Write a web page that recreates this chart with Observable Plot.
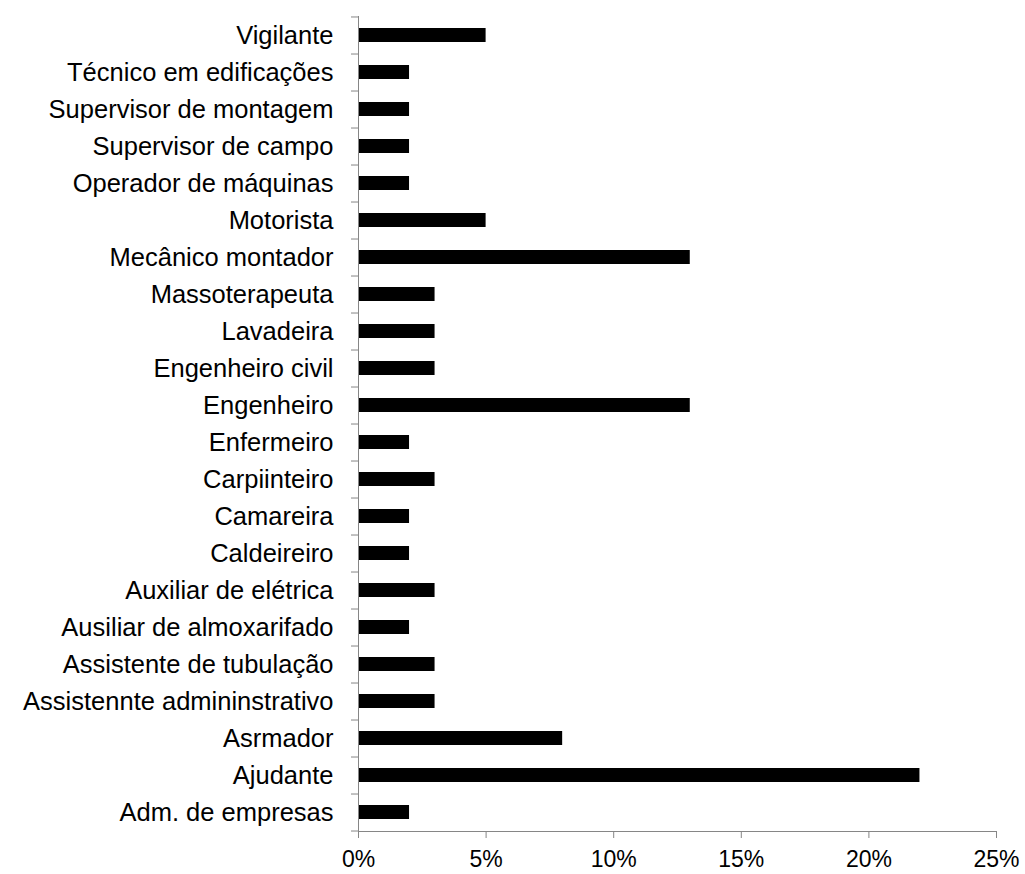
<!DOCTYPE html>
<html>
<head>
<meta charset="utf-8">
<script src="https://cdn.jsdelivr.net/npm/d3@7"></script>
<script src="https://cdn.jsdelivr.net/npm/@observablehq/plot@0.6"></script>
<style>
  html, body { margin: 0; padding: 0; background: #fff; }
  #chart svg { display: block; }
</style>
</head>
<body>
<div id="chart"></div>
<script>
const categories = [
  "Vigilante",
  "Técnico em edificações",
  "Supervisor de montagem",
  "Supervisor de campo",
  "Operador de máquinas",
  "Motorista",
  "Mecânico montador",
  "Massoterapeuta",
  "Lavadeira",
  "Engenheiro civil",
  "Engenheiro",
  "Enfermeiro",
  "Carpiinteiro",
  "Camareira",
  "Caldeireiro",
  "Auxiliar de elétrica",
  "Ausiliar de almoxarifado",
  "Assistente de tubulação",
  "Assistennte admininstrativo",
  "Asrmador",
  "Ajudante",
  "Adm. de empresas"
];
const values = [5, 2, 2, 2, 2, 5, 13, 3, 3, 3, 13, 2, 3, 2, 2, 3, 2, 3, 3, 8, 22, 2];
const xTicks = [0, 5, 10, 15, 20, 25];

const data = categories.map((c, i) => ({category: c, value: values[i]}));

const W = 1025, H = 874;
const mTop = 16, mBottom = 43, mLeft = 358, mRight = 29;
const step = (H - mTop - mBottom) / categories.length;
const gray = "#868686";

const chart = Plot.plot({
  width: W,
  height: H,
  marginTop: mTop,
  marginBottom: mBottom,
  marginLeft: mLeft,
  marginRight: mRight,
  style: {fontFamily: "'Liberation Sans', Arial, sans-serif", color: "#000", background: "#fff"},
  x: {domain: [0, 25], ticks: xTicks},
  y: {domain: categories, paddingInner: 0.62, paddingOuter: 0.31, align: 0.5},
  marks: [
    Plot.barX(data, {x: "value", y: "category", fill: "#000"}),
    Plot.frame({anchor: "bottom", stroke: gray, strokeWidth: 1}),
    Plot.ruleX([0], {stroke: gray, strokeWidth: 1}),
    Plot.axisX({ticks: xTicks, tickSize: 7, tickPadding: 12, stroke: gray, fill: "#000", fontSize: 23, tickFormat: d => d + "%", label: null}),
    Plot.axisY({tickSize: 0, tickPadding: 25, fontSize: 25.5, fill: "#000", label: null}),
    Plot.axisY({ticks: categories, tickSize: 7, text: null, stroke: gray, dy: step / 2, label: null}),
    Plot.axisY({ticks: categories.slice(0, 1), tickSize: 7, text: null, stroke: gray, dy: -step / 2, label: null})
  ]
});

document.getElementById("chart").appendChild(chart);
</script>
</body>
</html>
